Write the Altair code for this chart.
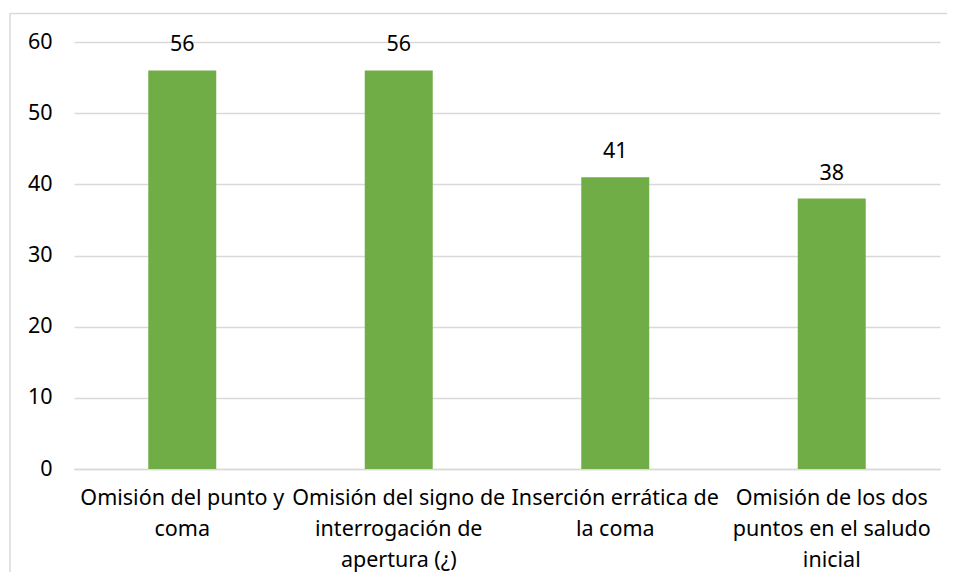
import altair as alt
import pandas as pd

categories = [
    "Omisión del punto y\ncoma",
    "Omisión del signo de\ninterrogación de\napertura (¿)",
    "Inserción errática de\nla coma",
    "Omisión de los dos\npuntos en el saludo\ninicial",
]
values = [56, 56, 41, 38]
y_ticks = [0, 10, 20, 30, 40, 50, 60]

df = pd.DataFrame({"cat": categories, "val": values})

FONT = "Noto Sans"
FS = 21.5
GREEN = "#70AD47"
GRID = "#D9D9D9"

x_enc = alt.X(
    "cat:N",
    sort=categories,
    title=None,
    scale=alt.Scale(paddingInner=0.686, paddingOuter=0.343),
    axis=alt.Axis(
        labelAngle=0,
        labelExpr="split(datum.value, '\\n')",
        labelFont=FONT,
        labelFontSize=FS,
        labelColor="#000000",
        labelLimit=0,
        labelPadding=18,
        labelLineHeight=31,
        labelBaseline="top",
        ticks=False,
        grid=False,
        domainColor=GRID,
        domainWidth=1.5,
    ),
)

y_enc = alt.Y(
    "val:Q",
    title=None,
    scale=alt.Scale(domain=[0, 60], nice=False),
    axis=alt.Axis(
        values=y_ticks,
        labelFont=FONT,
        labelFontSize=FS,
        labelColor="#000000",
        labelPadding=22,
        ticks=False,
        domain=False,
        gridColor=GRID,
        gridWidth=1.5,
    ),
)

bars = alt.Chart(df).mark_bar(color=GREEN).encode(x=x_enc, y=y_enc)

labels = alt.Chart(df).mark_text(
    font=FONT, fontSize=FS, color="#000000", baseline="bottom", dy=-14
).encode(x=alt.X("cat:N", sort=categories), y="val:Q", text="val:Q")

frame = pd.DataFrame({"a": [0]})
border_top = alt.Chart(frame).mark_rule(color=GRID, strokeWidth=1.5).encode(
    x=alt.value(-64), x2=alt.value(873), y=alt.value(-28.5)
)
border_left = alt.Chart(frame).mark_rule(color=GRID, strokeWidth=1.5).encode(
    x=alt.value(-64), y=alt.value(-28.5), y2=alt.value(700)
)

chart = (
    alt.layer(border_top, border_left, bars, labels)
    .properties(
        width=866,
        height=427,
        autosize=alt.AutoSizeParams(type="none"),
        padding={"left": 66, "top": 34, "right": 7, "bottom": 103},
    )
    .configure_view(strokeWidth=0)
)

chart.save("out.html", embed_options={"renderer": "svg", "actions": False})
